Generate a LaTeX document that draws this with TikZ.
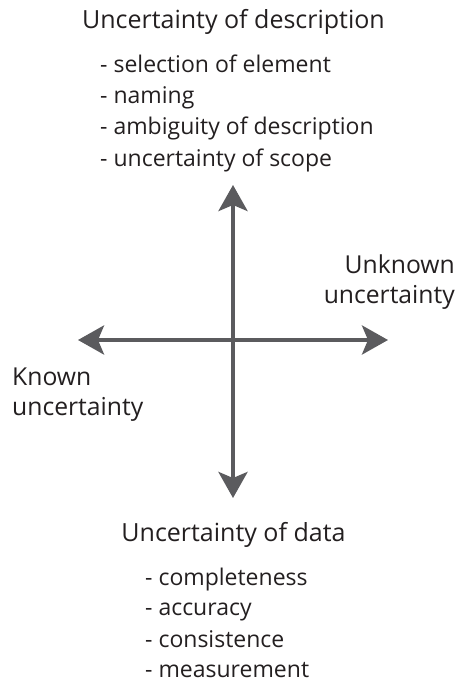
\documentclass[tikz,border=0pt]{standalone}
\usepackage{fontspec}
\setmainfont{Open Sans}
\usetikzlibrary{arrows.meta}
\definecolor{axisgray}{HTML}{5B5B5E}
\definecolor{txt}{HTML}{231F20}
\begin{document}
\begin{tikzpicture}[x=1pt,y=-1pt,
  axis/.style={draw=axisgray,line width=4pt,{Stealth[length=26pt,width=29pt,inset=6pt]}-{Stealth[length=26pt,width=29pt,inset=6pt]}},
  title/.style={anchor=base,text=txt,inner sep=0pt,font=\fontsize{25}{30}\selectfont},
  item/.style={anchor=base west,text=txt,inner sep=0pt,font=\fontsize{23}{28}\selectfont},
  side/.style={text=txt,inner sep=0pt,font=\fontsize{24.7}{30}\selectfont}]
\useasboundingbox (0,0) rectangle (459,682);
\coordinate (T) at (233,185);
\coordinate (B) at (233,498);
\coordinate (L) at (78,340);
\coordinate (R) at (388,340);
\draw[axis] (B) -- (T);
\draw[axis] (L) -- (R);
\node[title] (t1) at (233.5,29) {Uncertainty of description};
\node[item] (a1) at (100,73) {- selection of element};
\node[item] (a2) at (100,103.5) {- naming};
\node[item] (a3) at (100,135) {- ambiguity of description};
\node[item] (a4) at (100,166) {- uncertainty of scope};
\node[side,anchor=base east] (u1) at (455,273) {Unknown};
\node[side,anchor=base east] (u2) at (455,303) {uncertainty};
\node[side,anchor=base west] (k1) at (12,385) {Known};
\node[side,anchor=base west] (k2) at (12,415) {uncertainty};
\node[title] (t2) at (233.5,541) {Uncertainty of data};
\node[item] (b1) at (145,585) {- completeness};
\node[item] (b2) at (145,615) {- accuracy};
\node[item] (b3) at (145,647) {- consistence};
\node[item] (b4) at (145,677) {- measurement};
\end{tikzpicture}
\end{document}
